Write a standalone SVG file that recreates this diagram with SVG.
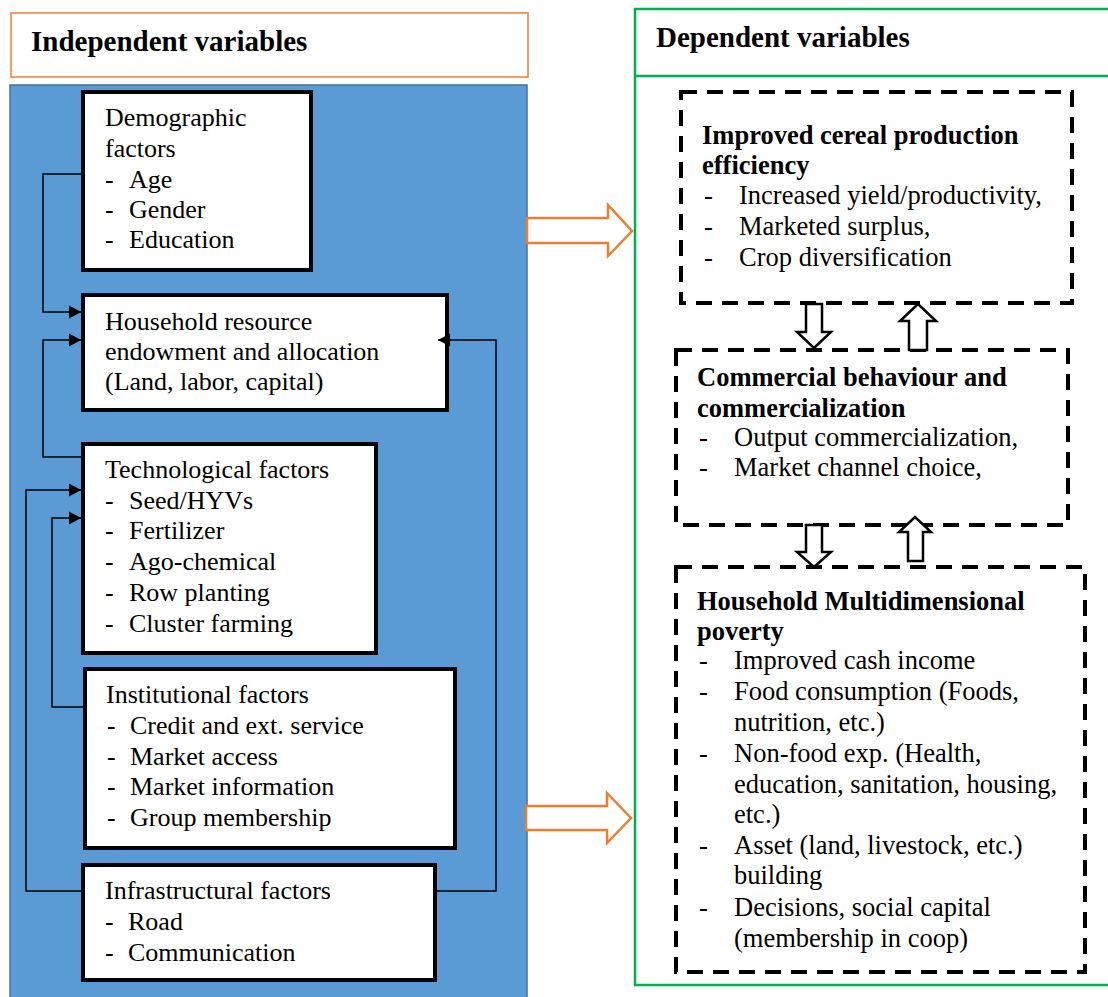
<svg xmlns="http://www.w3.org/2000/svg" width="1108" height="997" viewBox="0 0 1108 997">
<style>
.t{font-family:"Liberation Serif","Times New Roman",serif;font-size:26px;fill:#000}
.r{font-family:"Liberation Serif","Times New Roman",serif;font-size:26.5px;fill:#000}
.b{font-weight:bold}
.h{font-family:"Liberation Serif","Times New Roman",serif;font-size:29px;font-weight:bold;fill:#000}
.box{fill:#fff;stroke:#000;stroke-width:4}
.dbox{fill:none;stroke:#000;stroke-width:4;stroke-dasharray:16 10}
.con{fill:none;stroke:#000;stroke-width:1.5}
.oarr{fill:#fff;stroke:#ED7D31;stroke-width:2.5}
.karr{fill:#fff;stroke:#000;stroke-width:2.5}
</style>
<defs>
<marker id="ah" markerUnits="userSpaceOnUse" markerWidth="13" markerHeight="14" refX="12" refY="7" orient="auto">
<path d="M0,0.5 L12,7 L0,13.5 z" fill="#000"/>
</marker>
</defs>
<rect width="1108" height="997" fill="#fff"/>
<g id="indep-header">
<rect x="11" y="13" width="517" height="64" fill="#fff" stroke="#ED7D31" stroke-width="1.5"/>
<text class="h" x="31" y="51">Independent variables</text>
</g>
<g id="indep-panel">
<rect x="10" y="85" width="517" height="915" fill="#5B9BD5" stroke="#41719C" stroke-width="1.5"/>
</g>
<g id="dep-panel">
<rect x="635" y="9" width="480" height="976" fill="#fff" stroke="#00B050" stroke-width="2.5"/>
<line x1="635" y1="76" x2="1110" y2="76" stroke="#00B050" stroke-width="2.5"/>
<text class="h" x="656" y="47">Dependent variables</text>
</g>
<g id="demographic">
<rect class="box" x="83" y="92" width="228" height="178"/>
<text class="t" x="105" y="126">Demographic</text>
<text class="t" x="105" y="157">factors</text>
<text class="t" x="105" y="188">-</text><text class="t" x="129" y="188">Age</text>
<text class="t" x="105" y="218">-</text><text class="t" x="129" y="218">Gender</text>
<text class="t" x="105" y="248">-</text><text class="t" x="129" y="248">Education</text>
</g>
<g id="household-resource">
<rect class="box" x="83" y="295" width="364" height="115"/>
<text class="t" x="105" y="330">Household resource</text>
<text class="t" x="105" y="360">endowment and allocation</text>
<text class="t" x="105" y="390">(Land, labor, capital)</text>
</g>
<g id="technological">
<rect class="box" x="83" y="444" width="293" height="209"/>
<text class="t" x="105" y="478">Technological factors</text>
<text class="t" x="105" y="509">-</text><text class="t" x="129" y="509">Seed/HYVs</text>
<text class="t" x="105" y="539">-</text><text class="t" x="129" y="539">Fertilizer</text>
<text class="t" x="105" y="570">-</text><text class="t" x="129" y="570">Ago-chemical</text>
<text class="t" x="105" y="601">-</text><text class="t" x="129" y="601">Row planting</text>
<text class="t" x="105" y="632">-</text><text class="t" x="129" y="632">Cluster farming</text>
</g>
<g id="institutional">
<rect class="box" x="85" y="669" width="370" height="179"/>
<text class="t" x="106" y="703">Institutional factors</text>
<text class="t" x="107" y="734">-</text><text class="t" x="130" y="734">Credit and ext. service</text>
<text class="t" x="107" y="765">-</text><text class="t" x="130" y="765">Market access</text>
<text class="t" x="107" y="795">-</text><text class="t" x="130" y="795">Market information</text>
<text class="t" x="107" y="826">-</text><text class="t" x="130" y="826">Group membership</text>
</g>
<g id="infrastructural">
<rect class="box" x="83" y="865" width="352" height="115"/>
<text class="t" x="105" y="899">Infrastructural factors</text>
<text class="t" x="105" y="930">-</text><text class="t" x="128" y="930">Road</text>
<text class="t" x="105" y="961">-</text><text class="t" x="128" y="961">Communication</text>
</g>
<g id="connectors">
<path class="con" d="M83,174 H43 V312 H81" marker-end="url(#ah)"/>
<path class="con" d="M83,457 H43 V340 H81" marker-end="url(#ah)"/>
<path class="con" d="M83,891 H26 V490 H81" marker-end="url(#ah)"/>
<path class="con" d="M85,707 H52 V518 H81" marker-end="url(#ah)"/>
<path class="con" d="M435,891 H496 V340 H438" marker-end="url(#ah)"/>
</g>
<g id="orange-arrows">
<path class="oarr" d="M527,218 H608 V205 L632,231 L608,256 V243 H527 z"/>
<path class="oarr" d="M526,806 H607 V793 L631,818 L607,843 V830 H526 z"/>
</g>
<g id="production-efficiency">
<rect class="dbox" x="681" y="92" width="391" height="211"/>
<text class="r b" x="702" y="144">Improved cereal production</text>
<text class="r b" x="702" y="174">efficiency</text>
<text class="r" x="704" y="204">-</text><text class="r" x="739" y="204">Increased yield/productivity,</text>
<text class="r" x="704" y="235">-</text><text class="r" x="739" y="235">Marketed surplus,</text>
<text class="r" x="704" y="266">-</text><text class="r" x="739" y="266">Crop diversification</text>
</g>
<g id="commercialization">
<rect class="dbox" x="676" y="350" width="392" height="175"/>
<text class="r b" x="697" y="386">Commercial behaviour and</text>
<text class="r b" x="697" y="417">commercialization</text>
<text class="r" x="699" y="446">-</text><text class="r" x="734" y="446">Output commercialization,</text>
<text class="r" x="699" y="476">-</text><text class="r" x="734" y="476">Market channel choice,</text>
</g>
<g id="poverty">
<rect class="dbox" x="676" y="567" width="409" height="405"/>
<text class="r b" x="697" y="610">Household Multidimensional</text>
<text class="r b" x="697" y="640">poverty</text>
<text class="r" x="699" y="669">-</text><text class="r" x="734" y="669">Improved cash income</text>
<text class="r" x="699" y="700">-</text><text class="r" x="734" y="700">Food consumption (Foods,</text>
<text class="r" x="734" y="731">nutrition, etc.)</text>
<text class="r" x="699" y="762">-</text><text class="r" x="734" y="762">Non-food exp. (Health,</text>
<text class="r" x="734" y="793">education, sanitation, housing,</text>
<text class="r" x="734" y="823">etc.)</text>
<text class="r" x="699" y="854">-</text><text class="r" x="734" y="854">Asset (land, livestock, etc.)</text>
<text class="r" x="734" y="884">building</text>
<text class="r" x="699" y="916">-</text><text class="r" x="734" y="916">Decisions, social capital</text>
<text class="r" x="734" y="947">(membership in coop)</text>
</g>
<g id="block-arrows">
<path class="karr" d="M806,304 H822 V332 H831 L814,348 L797,332 H806 z"/>
<path class="karr" d="M909,350 V321 H900 L918,304 L936,321 H927 V350 z"/>
<path class="karr" d="M806,525 H822 V552 H831 L814,567 L797,552 H806 z"/>
<path class="karr" d="M908,561 V532 H899 L915,517 L931,532 H923 V561 z"/>
</g>
</svg>
